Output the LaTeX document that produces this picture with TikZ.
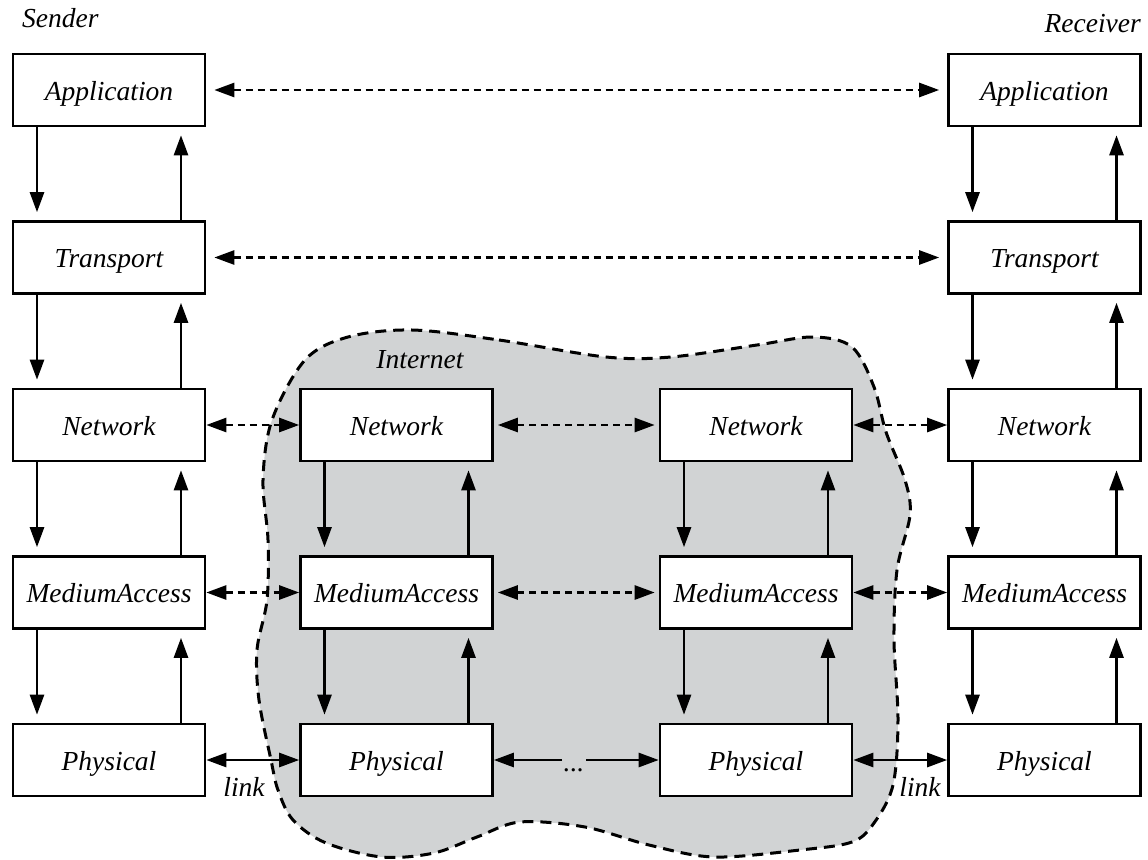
\documentclass[tikz,border=0pt]{standalone}
\usepackage{fontspec}
\setmainfont{Liberation Serif}
\usetikzlibrary{arrows.meta}
\definecolor{cloudgray}{RGB}{209,211,212}
\begin{document}
\begin{tikzpicture}[x=1pt,y=-1pt,
  txt/.style={font=\fontsize{27.5}{31}\selectfont\itshape},
  layer/.style={txt, draw, line width=2.6pt, fill=white, minimum width=192pt,
    minimum height=72pt, inner sep=0pt, text height=20pt, text depth=0pt},
  lbl/.style={txt, inner sep=0pt},
  arr/.style={line width=2.6pt, -{Triangle[length=20pt,width=14pt]}},
  both/.style={line width=2.6pt,
    {Triangle[length=20pt,width=14pt]}-{Triangle[length=20pt,width=14pt]}},
  peer/.style={both, dash pattern=on 7pt off 5pt},
  cloud/.style={fill=cloudgray, draw, line width=3pt, dash pattern=on 11pt off 7pt}
]
\useasboundingbox (0,0) rectangle (1148,859);

% the Internet cloud
\draw[cloud] plot[smooth cycle, tension=0.55] coordinates {
  (412,330) (499,340) (606,357) (671,357) (757,345) (813,337) (852,347)
  (874,387) (886,432) (905,480) (910,515) (897,570) (894,640) (898,720)
  (893,785) (874,823) (852,842) (800,850) (714,857) (649,845) (585,827)
  (520,822) (477,837) (434,853) (382,857) (326,843) (293,820) (278,790)
  (271,760) (259,700) (257,650) (267,600) (268,540) (263,480) (272,420)
  (305,360) (348,337)};
\node[lbl, anchor=base] (inet) at (420,368) {Internet};

% end hosts
\node[lbl, anchor=base west] (snd) at (22,28) {Sender};
\node[lbl, anchor=base east] (rcv) at (1141,33) {Receiver};

% layer boxes
\foreach \c/\x in {1/109,4/1044.5}{
  \node[layer] (a\c) at (\x,90) {Application};
  \node[layer] (t\c) at (\x,257.5) {Transport};
}
\foreach \c/\x in {1/109,2/396.5,3/756,4/1044.5}{
  \node[layer] (n\c) at (\x,425) {Network};
  \node[layer] (m\c) at (\x,592.5) {MediumAccess};
  \node[layer] (p\c) at (\x,760) {Physical};
}

% vertical arrows down and up the stacks
\foreach \u/\l in {a1/t1,t1/n1,n1/m1,m1/p1,a4/t4,t4/n4,n4/m4,m4/p4,n2/m2,m2/p2,n3/m3,m3/p3}{
  \draw[arr, shorten >=8pt] ([xshift=-72pt]\u.south) -- ([xshift=-72pt]\l.north);
  \draw[arr, shorten >=8pt] ([xshift=72pt]\l.north) -- ([xshift=72pt]\u.south);
}

% peer-to-peer exchanges
\draw[peer, shorten <=8pt, shorten >=8pt] (a1.east) -- (a4.west);
\draw[peer, shorten <=8pt, shorten >=8pt] (t1.east) -- (t4.west);
\foreach \r in {n,m}{
  \draw[peer] (\r1.east) -- (\r2.west);
  \draw[peer, shorten <=4pt, shorten >=4pt] (\r2.east) -- (\r3.west);
  \draw[peer] (\r3.east) -- (\r4.west);
}

% physical links
\draw[both] (p1.east) -- (p2.west);
\draw[both] (p3.east) -- (p4.west);
\node[lbl, anchor=base] (l1) at (244,796) {link};
\node[lbl, anchor=base] (l2) at (920,796) {link};
\coordinate (dl) at (562,760);
\coordinate (dr) at (586,760);
\draw[arr] (dl) -- (p2.east);
\draw[arr] (dr) -- (p3.west);
\node[lbl, anchor=base] (dots) at (574,771) {...};
\end{tikzpicture}
\end{document}
